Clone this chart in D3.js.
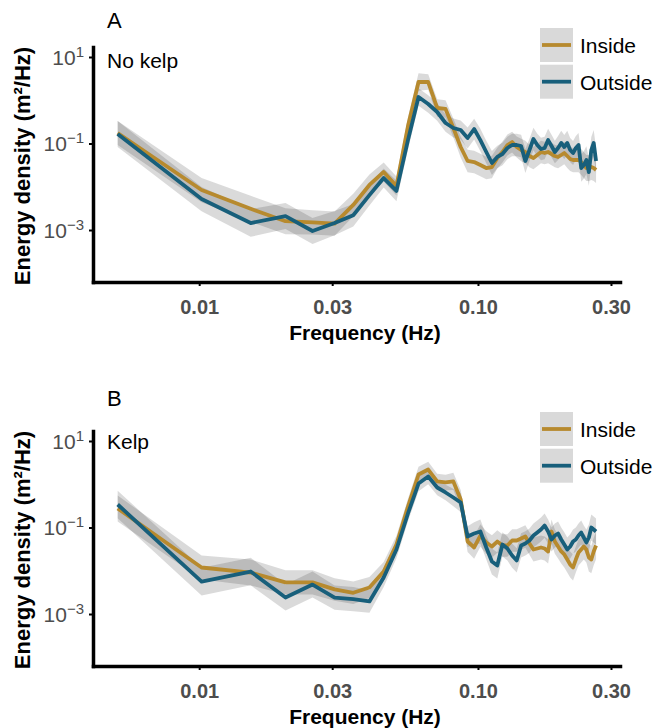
<!DOCTYPE html>
<html>
<head>
<meta charset="utf-8">
<script src="https://cdn.jsdelivr.net/npm/d3@7"></script>
<style>
  body { margin: 0; background: #fff; }
  svg { display: block; font-family: "Liberation Sans", Arial, Helvetica, sans-serif; }
</style>
</head>
<body>
<div id="chart"></div>
<script>
// frequency bins (Hz)
const freqs = [
  0.0051, 0.0102, 0.0153, 0.0204, 0.0255, 0.0306, 0.0357, 0.0408, 0.0459, 0.0510, 0.0561, 0.0612, 0.0663,
  0.0714, 0.0765, 0.0816, 0.0867, 0.0918, 0.0969, 0.1020, 0.1071, 0.1122, 0.1173, 0.1224, 0.1275, 0.1326,
  0.1377, 0.1428, 0.1479, 0.1530, 0.1581, 0.1632, 0.1683, 0.1734, 0.1785, 0.1836, 0.1887, 0.1938, 0.1989,
  0.2040, 0.2091, 0.2142, 0.2193, 0.2244, 0.2295, 0.2346, 0.2397, 0.2448, 0.2499, 0.2550, 0.2601, 0.2652
];

// A: no kelp
const noKelpInside = [
  0.175, 0.0084, 0.0031, 0.0016, 0.0015, 0.0014, 0.0038, 0.011, 0.022, 0.0104, 0.254, 2.64, 2.64,
  0.662, 0.628, 0.228, 0.083, 0.0394, 0.0373, 0.0318, 0.0271, 0.0286, 0.0462, 0.0636, 0.0923, 0.108,
  0.083, 0.0707, 0.0636, 0.0514, 0.0462, 0.0542, 0.0636, 0.0603, 0.0636, 0.0572, 0.0514, 0.0488, 0.0542,
  0.0603, 0.0514, 0.0438, 0.0415, 0.0415, 0.0415, 0.0373, 0.0318, 0.0271, 0.0271, 0.0286, 0.0271, 0.0244
];
const noKelpOutside = [
  0.166, 0.0052, 0.00145, 0.0021, 0.00095, 0.00145, 0.0022, 0.0064, 0.0159, 0.008, 0.12, 1.19, 0.819,
  0.535, 0.298, 0.228, 0.205, 0.134, 0.216, 0.12, 0.0636, 0.0354, 0.0488, 0.0572, 0.0787, 0.0923,
  0.0923, 0.0875, 0.0394, 0.0707, 0.127, 0.0923, 0.0746, 0.0787, 0.12, 0.0875, 0.0636, 0.0787, 0.103,
  0.083, 0.103, 0.0707, 0.0603, 0.0787, 0.0923, 0.0271, 0.0318, 0.0415, 0.0219, 0.0707, 0.103, 0.0394
];
// ribbon half-width, in decades
const noKelpInsideSpread = [
  0.28, 0.28, 0.30, 0.30, 0.28, 0.28, 0.26, 0.24, 0.22, 0.22, 0.20, 0.20, 0.18,
  0.20, 0.20, 0.22, 0.24, 0.26, 0.26, 0.26, 0.26, 0.26, 0.24, 0.24, 0.24, 0.24,
  0.24, 0.26, 0.26, 0.26, 0.26, 0.26, 0.26, 0.26, 0.26, 0.26, 0.26, 0.26, 0.26,
  0.26, 0.28, 0.28, 0.28, 0.28, 0.28, 0.30, 0.30, 0.30, 0.30, 0.30, 0.30, 0.30
];
const noKelpOutsideSpread = [
  0.30, 0.28, 0.32, 0.30, 0.30, 0.28, 0.26, 0.24, 0.22, 0.24, 0.22, 0.20, 0.20,
  0.20, 0.20, 0.22, 0.22, 0.24, 0.24, 0.26, 0.26, 0.28, 0.26, 0.26, 0.26, 0.26,
  0.26, 0.26, 0.28, 0.26, 0.26, 0.26, 0.26, 0.26, 0.26, 0.26, 0.26, 0.28, 0.28,
  0.28, 0.28, 0.28, 0.28, 0.28, 0.28, 0.32, 0.32, 0.32, 0.32, 0.30, 0.30, 0.30
];

// B: kelp
const kelpInside = [
  0.275, 0.0119, 0.0091, 0.0054, 0.0054, 0.0037, 0.0031, 0.0041, 0.0096, 0.0405, 0.306, 1.68, 2.19,
  1.16, 1.10, 1.16, 0.444, 0.0474, 0.0345, 0.0653, 0.045, 0.0364, 0.0474, 0.0384, 0.0384, 0.05,
  0.05, 0.0557, 0.0619, 0.0427, 0.031, 0.0327, 0.0345, 0.0327, 0.0279, 0.0808, 0.0474, 0.0364, 0.0279,
  0.0238, 0.0182, 0.0139, 0.0119, 0.0182, 0.0264, 0.031, 0.0364, 0.031, 0.0202, 0.0182, 0.0279, 0.0384
];
const kelpOutside = [
  0.34, 0.0056, 0.0096, 0.0024, 0.0048, 0.0024, 0.0022, 0.00195, 0.007, 0.031, 0.211, 1.04, 1.51,
  0.841, 0.645, 0.494, 0.379, 0.0619, 0.0727, 0.0808, 0.0345, 0.0164, 0.0132, 0.0405, 0.0327, 0.0225,
  0.0173, 0.0384, 0.0427, 0.05, 0.0653, 0.0766, 0.0899, 0.111, 0.0808, 0.0528, 0.0653, 0.0727, 0.0528,
  0.0405, 0.031, 0.0364, 0.0474, 0.0528, 0.0653, 0.0766, 0.0587, 0.045, 0.0587, 0.1, 0.0899, 0.0808
];
const kelpInsideSpread = [
  0.30, 0.28, 0.30, 0.28, 0.28, 0.26, 0.26, 0.24, 0.22, 0.20, 0.18, 0.18, 0.18,
  0.18, 0.18, 0.20, 0.22, 0.24, 0.26, 0.26, 0.26, 0.26, 0.26, 0.26, 0.26, 0.26,
  0.26, 0.26, 0.26, 0.26, 0.28, 0.28, 0.28, 0.28, 0.28, 0.28, 0.28, 0.28, 0.28,
  0.30, 0.30, 0.30, 0.30, 0.30, 0.30, 0.30, 0.30, 0.30, 0.32, 0.32, 0.32, 0.32
];
const kelpOutsideSpread = [
  0.32, 0.32, 0.32, 0.30, 0.30, 0.28, 0.28, 0.26, 0.22, 0.20, 0.18, 0.18, 0.18,
  0.18, 0.18, 0.20, 0.22, 0.24, 0.26, 0.28, 0.28, 0.30, 0.30, 0.28, 0.28, 0.28,
  0.28, 0.28, 0.28, 0.28, 0.28, 0.28, 0.28, 0.28, 0.28, 0.28, 0.28, 0.28, 0.28,
  0.28, 0.28, 0.28, 0.28, 0.28, 0.28, 0.28, 0.28, 0.30, 0.30, 0.30, 0.30, 0.30
];

const xTicks = [0.01, 0.03, 0.1, 0.3];
const yTicks = [10, 0.1, 0.001];
const yTickExp = ['1', '\u22121', '\u22123'];
const seriesNames = ['Inside', 'Outside'];
const seriesColors = ['#B78A2E', '#185F7B'];

const panels = [
  { letter: 'A', site: 'No kelp', top: 47, letterY: 28, siteY: 68,
    series: [noKelpInside, noKelpOutside], spreads: [noKelpInsideSpread, noKelpOutsideSpread] },
  { letter: 'B', site: 'Kelp', top: 431, letterY: 406, siteY: 449,
    series: [kelpInside, kelpOutside], spreads: [kelpInsideSpread, kelpOutsideSpread] }
];

const W = 658, H = 728;
const plotLeft = 93, plotRight = 620, plotH = 235;

const svg = d3.select('#chart').append('svg')
  .attr('width', W)
  .attr('height', H);

const x = d3.scaleLog().domain([0.00416, 0.3232]).range([plotLeft, plotRight]);

panels.forEach(p => {
  const bottom = p.top + plotH;
  const y = d3.scaleLog().domain([Math.pow(10, -4.202), Math.pow(10, 1.231)]).range([bottom, p.top]);
  const g = svg.append('g');

  // ribbons first, then the lines over them
  p.series.forEach((vals, i) => {
    const rows = freqs.map((f, j) => ({ f: f, v: vals[j], s: p.spreads[i][j] }));
    const area = d3.area()
      .x(d => x(d.f))
      .y0(d => y(d.v / Math.pow(10, d.s)))
      .y1(d => y(d.v * Math.pow(10, d.s)));
    g.append('path')
      .datum(rows)
      .attr('d', area)
      .attr('fill', '#222')
      .attr('fill-opacity', 0.17);
  });

  p.series.forEach((vals, i) => {
    const rows = freqs.map((f, j) => ({ f: f, v: vals[j] }));
    const line = d3.line().x(d => x(d.f)).y(d => y(d.v));
    g.append('path')
      .datum(rows)
      .attr('d', line)
      .attr('fill', 'none')
      .attr('stroke', seriesColors[i])
      .attr('stroke-width', 3.8)
      .attr('stroke-linejoin', 'round');
  });

  // x axis
  const xAxis = g.append('g')
    .attr('transform', `translate(0,${bottom})`)
    .call(d3.axisBottom(x).tickValues(xTicks).tickFormat(d3.format('.2f')).tickSize(4).tickSizeOuter(0));
  xAxis.select('.domain').attr('stroke-width', 3.5).attr('stroke-linecap', 'square');
  xAxis.selectAll('.tick line').attr('stroke-width', 2);
  xAxis.selectAll('.tick text')
    .attr('y', 32).attr('dy', null)
    .attr('font-size', 20).attr('font-weight', 'bold').attr('fill', '#4d4d4d');

  // y axis
  const yAxis = g.append('g')
    .attr('transform', `translate(${plotLeft},0)`)
    .call(d3.axisLeft(y).tickValues(yTicks).tickFormat('').tickSize(4).tickSizeOuter(0));
  yAxis.select('.domain').attr('stroke-width', 3.5).attr('stroke-linecap', 'square');
  yAxis.selectAll('.tick line').attr('stroke-width', 2);
  yAxis.selectAll('.tick text').each(function (d, i) {
    const t = d3.select(this)
      .attr('x', -9).attr('dy', '0.35em')
      .attr('font-size', 21).attr('fill', '#4d4d4d');
    t.text('10');
    t.append('tspan').attr('dy', '-0.55em').attr('font-size', 15).text(yTickExp[i]);
  });

  svg.append('text')
    .attr('transform', `translate(30,${p.top + 119}) rotate(-90)`)
    .attr('text-anchor', 'middle')
    .attr('font-size', 22).attr('font-weight', 'bold')
    .text('Energy density (m\u00B2/Hz)');

  svg.append('text')
    .attr('x', 365).attr('y', bottom + 58)
    .attr('text-anchor', 'middle')
    .attr('font-size', 21).attr('font-weight', 'bold')
    .text('Frequency (Hz)');

  svg.append('text')
    .attr('x', 107).attr('y', p.letterY)
    .attr('font-size', 22)
    .text(p.letter);

  svg.append('text')
    .attr('x', 107).attr('y', p.siteY)
    .attr('font-size', 21)
    .text(p.site);

  // legend
  const lg = svg.append('g').attr('transform', `translate(540,${p.top - 19})`);
  seriesNames.forEach((name, i) => {
    const ky = i * 36.7;
    lg.append('rect')
      .attr('x', 0).attr('y', ky).attr('width', 33).attr('height', 34)
      .attr('fill', '#d9d9d9');
    lg.append('line')
      .attr('x1', 2).attr('x2', 31).attr('y1', ky + 17).attr('y2', ky + 17)
      .attr('stroke', seriesColors[i]).attr('stroke-width', 3.8);
    lg.append('text')
      .attr('x', 40).attr('y', ky + 18).attr('dy', '0.35em')
      .attr('font-size', 21)
      .text(name);
  });
});
</script>
</body>
</html>
